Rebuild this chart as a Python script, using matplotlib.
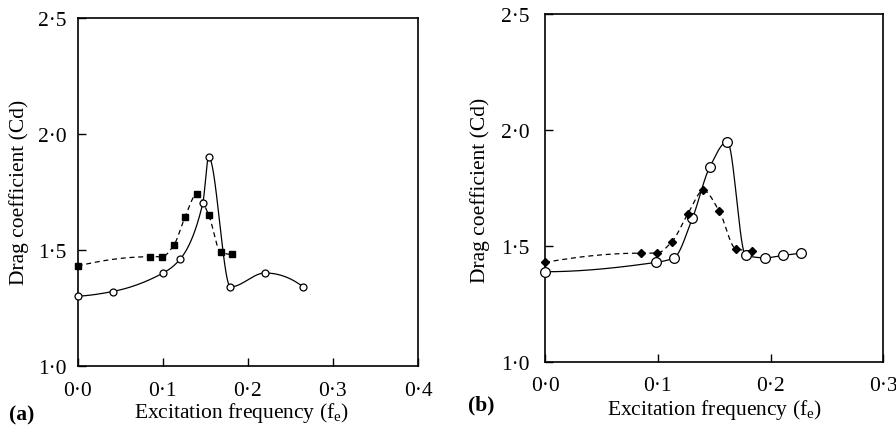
import numpy as np
import matplotlib
matplotlib.use("Agg")
import matplotlib.pyplot as plt
from matplotlib.ticker import FuncFormatter, FixedLocator

plt.rcParams['font.family'] = ['Liberation Serif', 'DejaVu Serif']
plt.rcParams['mathtext.fontset'] = 'custom'
plt.rcParams['mathtext.rm'] = 'Liberation Serif'
plt.rcParams['mathtext.it'] = 'Liberation Serif:italic'

# ---- data panel (a) ----
a_open_x = [0.0, 0.041, 0.1005, 0.1205, 0.147, 0.154, 0.1796, 0.220, 0.265]
a_open_y = [1.30, 1.32, 1.40, 1.46, 1.70, 1.90, 1.34, 1.40, 1.34]
a_sq_x = [0.0, 0.0845, 0.099, 0.113, 0.126, 0.140, 0.154, 0.168, 0.1816]
a_sq_y = [1.43, 1.47, 1.47, 1.52, 1.64, 1.74, 1.65, 1.49, 1.48]

# ---- data panel (b) ----
b_open_x = [0.0, 0.098, 0.1144, 0.1307, 0.146, 0.1617, 0.178, 0.195, 0.2108, 0.2267]
b_open_y = [1.39, 1.43, 1.45, 1.62, 1.84, 1.95, 1.46, 1.45, 1.46, 1.47]
b_fill_x = [0.0, 0.0848, 0.099, 0.1126, 0.1268, 0.1404, 0.1546, 0.169, 0.1833]
b_fill_y = [1.43, 1.47, 1.47, 1.52, 1.64, 1.74, 1.65, 1.49, 1.48]

x_ticks_a = [0.0, 0.1, 0.2, 0.3, 0.4]
x_ticks_b = [0.0, 0.1, 0.2, 0.3]
y_ticks = [1.0, 1.5, 2.0, 2.5]
x_label = r'Excitation frequency (f$_{\mathrm{e}}$)'
y_label = 'Drag coefficient (Cd)'

FS = 15.5


def pchip(x, y, xn):
    x = np.asarray(x, float); y = np.asarray(y, float)
    h = np.diff(x); d = np.diff(y) / h
    n = len(x)
    m = np.zeros(n)
    for k in range(1, n - 1):
        if d[k - 1] * d[k] <= 0:
            m[k] = 0.0
        else:
            w1 = 2 * h[k] + h[k - 1]
            w2 = h[k] + 2 * h[k - 1]
            m[k] = (w1 + w2) / (w1 / d[k - 1] + w2 / d[k])

    def end(h0, h1, d0, d1):
        mm = ((2 * h0 + h1) * d0 - h0 * d1) / (h0 + h1)
        if np.sign(mm) != np.sign(d0):
            mm = 0.0
        elif np.sign(d0) != np.sign(d1) and abs(mm) > abs(3 * d0):
            mm = 3 * d0
        return mm
    m[0] = end(h[0], h[1], d[0], d[1])
    m[-1] = end(h[-1], h[-2], d[-1], d[-2])
    xn = np.asarray(xn, float)
    idx = np.clip(np.searchsorted(x, xn) - 1, 0, n - 2)
    t = (xn - x[idx]) / h[idx]
    h00 = 2 * t**3 - 3 * t**2 + 1
    h10 = t**3 - 2 * t**2 + t
    h01 = -2 * t**3 + 3 * t**2
    h11 = t**3 - t**2
    return h00 * y[idx] + h10 * h[idx] * m[idx] + h01 * y[idx + 1] + h11 * h[idx] * m[idx + 1]


def smooth(ax, xs, ys, **kw):
    xn = np.linspace(xs[0], xs[-1], 800)
    ax.plot(xn, pchip(xs, ys, xn), **kw)


fmt = FuncFormatter(lambda v, p: f"{v:.1f}".replace('.', '\u00b7'))

W, H = 896, 435
fig = plt.figure(figsize=(W / 100, H / 100), dpi=100)


def px(x0, y0, x1, y1):
    return [x0 / W, 1 - y1 / H, (x1 - x0) / W, (y1 - y0) / H]


axa = fig.add_axes(px(77.7, 19, 418, 366.7))
axb = fig.add_axes(px(545, 15, 883.3, 363.3))

for ax, xt in ((axa, x_ticks_a), (axb, x_ticks_b)):
    ax.set_xlim(xt[0], xt[-1])
    ax.set_ylim(1.0, 2.5)
    ax.xaxis.set_major_locator(FixedLocator(xt))
    ax.yaxis.set_major_locator(FixedLocator(y_ticks))
    ax.xaxis.set_major_formatter(fmt)
    ax.yaxis.set_major_formatter(fmt)
    ax.tick_params(direction='in', length=6, width=1.0, labelsize=FS,
                   top=False, right=False, colors='black')
    for s in ax.spines.values():
        s.set_linewidth(1.2)

axa.tick_params(axis='x', pad=11)
axa.tick_params(axis='y', pad=8)
axb.tick_params(axis='x', pad=10)
axb.tick_params(axis='y', pad=11)

lw = 0.9
# panel (a)
smooth(axa, a_open_x, a_open_y, color='black', lw=lw, zorder=2)
smooth(axa, a_sq_x, a_sq_y, color='black', lw=lw, dashes=(4, 3), zorder=2)
axa.plot(a_open_x, a_open_y, 'o', ms=5, mfc='white', mec='black', mew=0.9,
         ls='none', zorder=3, clip_on=False)
axa.plot(a_sq_x, a_sq_y, 's', ms=5, mfc='black', mec='black',
         ls='none', zorder=3, clip_on=False)

# panel (b)
smooth(axb, b_open_x, b_open_y, color='black', lw=lw, zorder=2)
smooth(axb, b_fill_x, b_fill_y, color='black', lw=lw, dashes=(4, 3), zorder=2)
axb.plot(b_open_x, b_open_y, 'o', ms=7, mfc='white', mec='black', mew=0.9,
         ls='none', zorder=3, clip_on=False)
axb.plot(b_fill_x, b_fill_y, 'D', ms=4, mfc='black', mec='black',
         ls='none', zorder=4, clip_on=False)

# labels
fig.text(241 / W, 1 - 413 / H, x_label, ha='center', va='center', fontsize=FS)
fig.text(714 / W, 1 - 410 / H, x_label, ha='center', va='center', fontsize=FS)
fig.text(19 / W, 1 - 192 / H, y_label, ha='center', va='center', fontsize=FS,
         rotation=90)
fig.text(480 / W, 1 - 190 / H, y_label, ha='center', va='center', fontsize=FS,
         rotation=90)
fig.text(22 / W, 1 - 415 / H, '(a)', ha='center', va='center', fontsize=FS,
         fontweight='bold')
fig.text(481 / W, 1 - 405 / H, '(b)', ha='center', va='center', fontsize=FS,
         fontweight='bold')

fig.savefig('out.png', dpi=100)
